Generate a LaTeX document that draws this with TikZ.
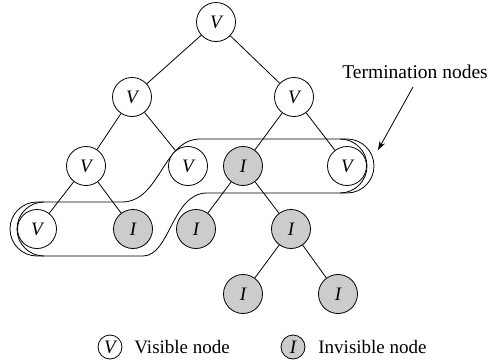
\documentclass[tikz,border=0pt]{standalone}
\usepackage{fontspec}
\setmainfont{Liberation Serif}
\usetikzlibrary{arrows.meta}
\begin{document}
\begin{tikzpicture}[x=1pt,y=-1pt,line width=0.8pt,
  tnode/.style={circle,draw,minimum size=39pt,inner sep=0pt,font=\fontsize{19}{21}\selectfont\itshape},
  vis/.style={tnode,fill=white},
  inv/.style={tnode,fill=gray!40},
  lnode/.style={circle,draw,minimum size=24pt,inner sep=0pt,font=\fontsize{19}{21}\selectfont\itshape},
  lbl/.style={font=\fontsize{19}{21}\selectfont,inner sep=0pt,anchor=west},
  edge/.style={line width=0.8pt},
  region/.style={line width=0.8pt}]
\useasboundingbox (0,0) rectangle (488,362);
% termination region outline
\draw[region] (37,202) -- (122,202) .. controls (160,202) and (163,139) .. (200,139)
  -- (347,139) arc[start angle=90,end angle=-90,radius=27pt]
  -- (207,193) .. controls (172,193) and (170,256) .. (143,256)
  -- (37,256) arc[start angle=-90,end angle=-270,radius=27pt];
% inner arcs at the ends
\draw[region] (44,202) arc[start angle=90,end angle=270,radius=27pt];
\draw[region] (340,139) arc[start angle=90,end angle=-90,radius=27pt];
% tree nodes
\node[vis] (r) at (216,22) {V};
\node[vis] (a) at (132,97) {V};
\node[vis] (b) at (294,97) {V};
\node[vis] (aa) at (86,166) {V};
\node[vis] (ab) at (188,166) {V};
\node[inv] (ba) at (243,166) {I};
\node[vis] (bb) at (347,166) {V};
\node[vis] (aaa) at (37,229) {V};
\node[inv] (aab) at (133,229) {I};
\node[inv] (baa) at (196,229) {I};
\node[inv] (bab) at (291,229) {I};
\node[inv] (baba) at (243,294) {I};
\node[inv] (babb) at (338,294) {I};
\draw[edge] (r) -- (a); \draw[edge] (r) -- (b);
\draw[edge] (a) -- (aa); \draw[edge] (a) -- (ab);
\draw[edge] (b) -- (ba); \draw[edge] (b) -- (bb);
\draw[edge] (aa) -- (aaa); \draw[edge] (aa) -- (aab);
\draw[edge] (ba) -- (baa); \draw[edge] (ba) -- (bab);
\draw[edge] (bab) -- (baba); \draw[edge] (bab) -- (babb);
% annotation
\node[lbl,font=\fontsize{19.5}{21}\selectfont] (term) at (342,72) {Termination nodes};
\coordinate (tstart) at (413,87);
\coordinate (ttip) at (378,150);
\draw[-{Stealth[length=9pt,width=6pt]}] (tstart) -- (ttip);
% legend
\node[lnode] (lv) at (110,347) {V};
\node[lbl] (lvt) at (134,347) {Visible node};
\node[lnode,fill=gray!40] (li) at (293,347) {I};
\node[lbl] (lit) at (318,347) {Invisible node};
\end{tikzpicture}
\end{document}
